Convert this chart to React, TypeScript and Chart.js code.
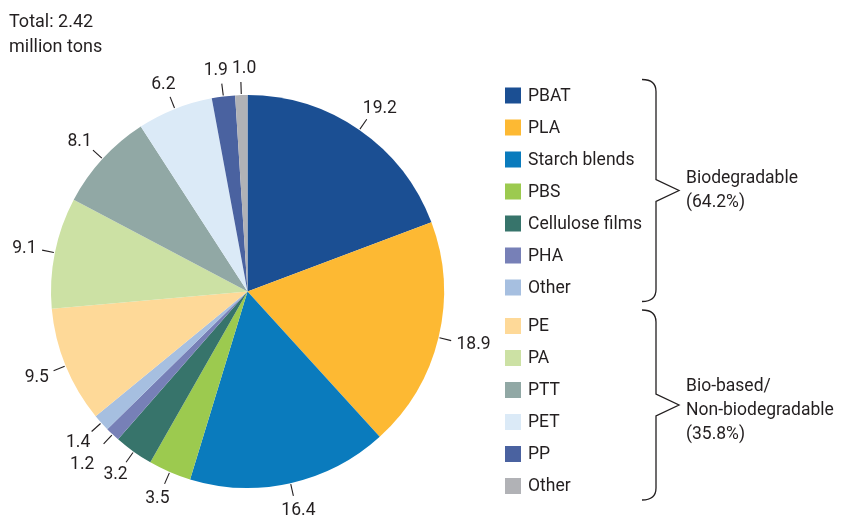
import React, { useEffect, useRef } from "react";
import { Chart, registerables } from "chart.js";

Chart.register(...registerables);

const categories = [
  "PBAT", "PLA", "Starch blends", "PBS", "Cellulose films", "PHA", "Other",
  "PE", "PA", "PTT", "PET", "PP", "Other",
];
const values = [19.2, 18.9, 16.4, 3.5, 3.2, 1.2, 1.4, 9.5, 9.1, 8.1, 6.2, 1.9, 1.0];
const valueLabels = ["19.2", "18.9", "16.4", "3.5", "3.2", "1.2", "1.4", "9.5", "9.1", "8.1", "6.2", "1.9", "1.0"];
const colors = [
  "#1b4f93", "#fdb933", "#0a7bbd", "#9cca4f", "#37746b", "#7780b7", "#a6bfe0",
  "#fed998", "#cce1a4", "#91a8a5", "#dbeaf7", "#4a62a0", "#b1b2b6",
];
const groupSizes = [7, 6];
const groupLabels = [
  ["Biodegradable", "(64.2%)"],
  ["Bio-based/", "Non-biodegradable", "(35.8%)"],
];
const titleLines = ["Total: 2.42", "million tons"];

const TEXT = "#231f20";
const FONT = "17.5px Roboto, 'DejaVu Sans', sans-serif";

type Lab = { cx: number; cy: number; w: number; h: number; dx: number; dy: number };

const overlaps = (a: Lab, b: Lab, pad: number) =>
  Math.abs(a.cx - b.cx) < (a.w + b.w) / 2 + pad && Math.abs(a.cy - b.cy) < (a.h + b.h) / 2;

const overlay = {
  id: "overlay",
  afterDraw(chart: any) {
    const ctx = chart.ctx as CanvasRenderingContext2D;
    ctx.save();
    ctx.fillStyle = TEXT;
    ctx.strokeStyle = TEXT;

    // title
    ctx.textAlign = "left";
    ctx.textBaseline = "alphabetic";
    ctx.font = "18px Roboto, 'DejaVu Sans', sans-serif";
    titleLines.forEach((t, i) => ctx.fillText(t, 9, 27 + i * 25));
    ctx.font = FONT;

    // slice value labels with radial leader lines
    const meta = chart.getDatasetMeta(0);
    const labs: Lab[] = [];
    meta.data.forEach((arc: any, i: number) => {
      const a = (arc.startAngle + arc.endAngle) / 2;
      const r = arc.outerRadius;
      const dx = Math.cos(a), dy = Math.sin(a);
      const x1 = arc.x + dx * (r + 1), y1 = arc.y + dy * (r + 1);
      const x2 = arc.x + dx * (r + 13), y2 = arc.y + dy * (r + 13);
      ctx.lineWidth = 1.1;
      ctx.beginPath();
      ctx.moveTo(x1, y1);
      ctx.lineTo(x2, y2);
      ctx.stroke();
      const w = ctx.measureText(valueLabels[i]).width;
      const gap = 6;
      labs.push({
        cx: x2 + dx * gap + dx * (w / 2),
        cy: y2 + dy * gap + dy * (17 / 2),
        w, h: 22, dx, dy,
      });
    });
    // simple collision resolution, last slice first
    const placed: number[] = [];
    for (let i = labs.length - 1; i >= 0; i--) {
      const L = labs[i];
      for (const j of placed) {
        const M = labs[j];
        if (!overlaps(L, M, 3)) continue;
        if (Math.abs(L.dy) > 0.85 && Math.abs(M.dy) > 0.85) {
          const need = (L.w + M.w) / 2 + 4 - Math.abs(L.cx - M.cx);
          const s = L.cx < M.cx ? -1 : 1;
          L.cx += (s * need) / 2;
          M.cx -= (s * need) / 2;
        }
      }
      let guard = 0;
      while (placed.some((j) => overlaps(L, labs[j], 3)) && guard < 60) {
        L.cx += L.dx;
        L.cy += L.dy;
        guard++;
      }
      placed.push(i);
    }
    labs.forEach((L, i) => {
      ctx.textAlign = "center";
      ctx.textBaseline = "middle";
      ctx.fillText(valueLabels[i], L.cx, L.cy + 1);
    });

    // legend
    const boxX = 505, box = 16, textX = 528;
    const firstRows = [95.5, 326];
    const rowGap = 32;
    let idx = 0;
    groupSizes.forEach((n, g) => {
      const ys: number[] = [];
      for (let k = 0; k < n; k++) {
        const y = firstRows[g] + k * rowGap;
        ys.push(y);
        ctx.fillStyle = colors[idx];
        ctx.fillRect(boxX, y - box / 2, box, box);
        ctx.fillStyle = TEXT;
        ctx.textAlign = "left";
        ctx.textBaseline = "middle";
        ctx.fillText(categories[idx], textX, y + 1);
        idx++;
      }
      // bracket
      const top = ys[0] - 16;
      const bottom = ys[ys.length - 1] + 14;
      const mid = (top + bottom) / 2;
      const bx = 656, tipX = 679, curl = 12, notch = 11;
      ctx.lineWidth = 1.3;
      ctx.beginPath();
      ctx.moveTo(bx - curl - 2, top);
      ctx.quadraticCurveTo(bx, top, bx, top + curl);
      ctx.lineTo(bx, mid - notch);
      ctx.lineTo(tipX, mid);
      ctx.lineTo(bx, mid + notch);
      ctx.lineTo(bx, bottom - curl);
      ctx.quadraticCurveTo(bx, bottom, bx - curl - 2, bottom);
      ctx.stroke();
      const lines = groupLabels[g];
      const lh = 24;
      const center = mid + (g === 0 ? -1 : 5);
      lines.forEach((t, j) => {
        const y = center + (j - (lines.length - 1) / 2) * lh;
        ctx.textAlign = "left";
        ctx.textBaseline = "middle";
        ctx.fillText(t, 686, y + 1);
      });
    });

    ctx.restore();
  },
};

export default function App() {
  const ref = useRef<HTMLCanvasElement>(null);
  useEffect(() => {
    document.body.style.margin = "0";
    const chart = new Chart(ref.current!, {
      type: "pie",
      data: {
        labels: categories,
        datasets: [
          {
            data: values,
            backgroundColor: colors,
            borderWidth: 0,
          },
        ],
      },
      options: {
        responsive: false,
        animation: false,
        events: [],
        layout: { padding: { left: 51, right: 397, top: 95, bottom: 31 } },
        plugins: {
          legend: { display: false },
          tooltip: { enabled: false },
          title: { display: false },
        },
      },
      plugins: [overlay],
    });
    return () => chart.destroy();
  }, []);
  return (
    <div style={{ position: "absolute", left: 0, top: 0, width: 841, height: 519, background: "#fff" }}>
      <canvas ref={ref} width={841} height={519} style={{ width: 841, height: 519 }} />
    </div>
  );
}
